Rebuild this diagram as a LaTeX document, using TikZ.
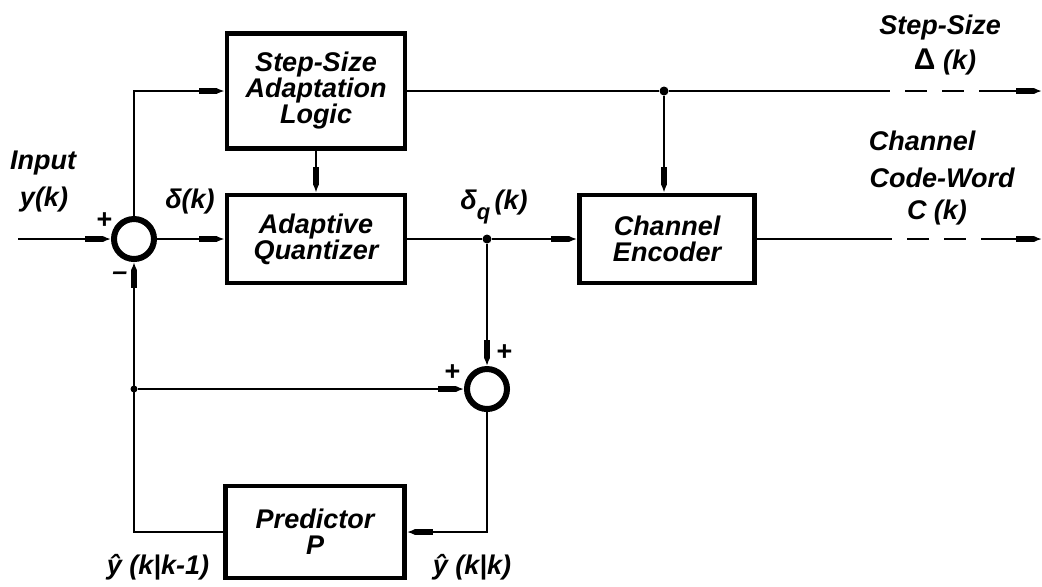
\documentclass[tikz,border=0pt]{standalone}
\usepackage{fontspec}
\setmainfont{Liberation Sans}
\usetikzlibrary{arrows.meta}
\begin{document}
\begin{tikzpicture}[x=0.5pt,y=-0.5pt,
  font=\fontsize{13.5}{13}\selectfont\bfseries\itshape,
  block/.style={draw,line width=2.4pt,align=center,inner sep=0pt},
  sumnode/.style={draw,circle,line width=3pt,minimum size=20pt,inner sep=0pt},
  sig/.style={line width=1pt},
  arr/.style={sig,-{Rectangle[length=9pt,width=3pt]Latex[length=4pt,width=3pt]}},
  dashpart/.style={sig,dash pattern=on 11pt off 7.5pt,dash phase=11pt},
  dotnode/.style={circle,fill,inner sep=0pt,minimum size=4.5pt},
  lbl/.style={inner sep=0pt}]
\useasboundingbox (0,0) rectangle (1042,586);
% blocks
\node[block,minimum width=89pt,minimum height=57.5pt] (step) at (316,91) {Step-Size\\Adaptation\\Logic};
\node[block,minimum width=89pt,minimum height=44pt] (quant) at (316,239) {Adaptive\\Quantizer};
\node[block,minimum width=87.5pt,minimum height=44pt] (enc) at (667,239) {Channel\\Encoder};
\node[block,minimum width=89.5pt,minimum height=46pt] (pred) at (315,532) {Predictor\\P};
\node[sumnode] (s1) at (134,239) {};
\node[sumnode] (s2) at (487,389) {};
% junctions
\node[dotnode] (d1) at (487,239) {};
\node[dotnode] (d2) at (664,91) {};
\node[dotnode,minimum size=3.5pt] (d3) at (134,389) {};
\coordinate (in) at (18,239);
\coordinate (c1) at (890,91);
\coordinate (c2) at (1000,91);
\coordinate (o1) at (1042,91);
\coordinate (c3) at (892,239);
\coordinate (c4) at (1000,239);
\coordinate (o2) at (1042,239);
% connectors
\draw[arr] (in) -- (s1.west);
\draw[arr] (s1.north) |- (step.west);
\draw[arr] (s1.east) -- (quant.west);
\draw[arr] (step.south) -- (quant.north);
\draw[sig] (quant.east) -- (d1);
\draw[arr] (d1) -- (enc.west);
\draw[sig] (step.east) -- (d2) -- (c1);
\draw[dashpart] (c1) -- (c2);
\draw[arr] (c2) -- (o1);
\draw[arr] (d2) -- (d2 |- enc.north);
\draw[sig] (enc.east) -- (c3);
\draw[dashpart] (c3) -- (c4);
\draw[arr] (c4) -- (o2);
\draw[arr] (d1) -- (s2.north);
\draw[arr] (d3) -- (s2.west);
\draw[arr] (s2.south) |- (pred.east);
\draw[arr] (pred.west) -| (s1.south);
% labels
\node[lbl] (tin) at (43,163) {Input};
\node[lbl] (tyk) at (44,200) {y(k)};
\node[lbl] (p1) at (104,221) {+};
\node[lbl] (m1) at (120,276) {–};
\node[lbl] (tdk) at (190,202) {δ(k)};
\node[lbl] (tdq) at (494,207) {δ\raisebox{-5pt}{\fontsize{11}{11}\selectfont q}\,(k)};
\node[lbl] (tss) at (940,28) {Step-Size};
\node[lbl] (tdel) at (945,62) {{\upshape\fontsize{15}{15}\selectfont Δ} (k)};
\node[lbl] (tch) at (922,141) {Channel};
\node[lbl] (tcw) at (942,178) {Code-Word};
\node[lbl] (tck) at (937,213) {C (k)};
\node[lbl] (p2) at (452,373) {+};
\node[lbl] (p3) at (504,353) {+};
\node[lbl] (typ) at (158,567) {ŷ (k|k-1)};
\node[lbl] (tyk2) at (472,567) {ŷ (k|k)};
\end{tikzpicture}
\end{document}
